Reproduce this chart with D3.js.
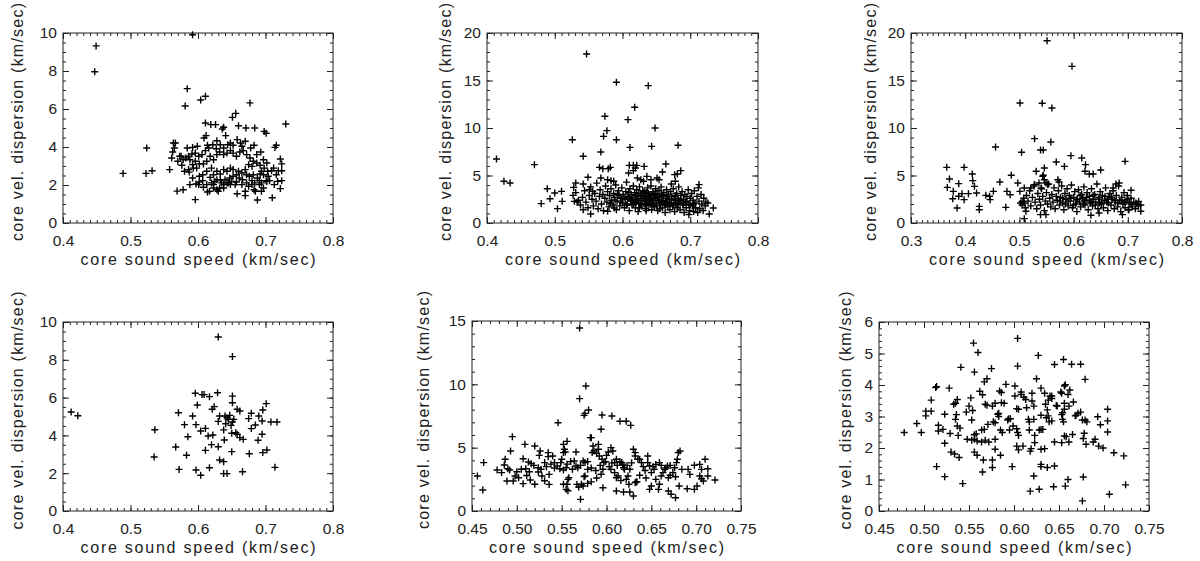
<!DOCTYPE html>
<html>
<head>
<meta charset="utf-8">
<script src="https://cdn.jsdelivr.net/npm/d3@7"></script>
<style>
  body { margin: 0; background: #fff; }
  svg { display: block; }
  .tick text { font-family: "Liberation Sans", Arial, sans-serif; font-size: 15.5px; fill: #222; }
  .lbl { font-family: "Liberation Sans", Arial, sans-serif; font-size: 16px; fill: #222; }
</style>
</head>
<body>
<svg width="1200" height="561"></svg>
<script>
// [sound speed, velocity dispersion] in km/sec
const coresA = [
  [0.449,9.32],[0.447,7.96],[0.592,9.91],[0.584,7.07],[0.581,6.16],[0.604,6.47],[0.611,6.67],[0.677,6.32],
  [0.651,5.56],[0.656,5.77],[0.730,5.21],[0.611,5.26],[0.619,5.18],[0.626,5.18],[0.638,5.04],[0.636,4.95],
  [0.660,5.12],[0.671,5.00],[0.684,5.00],[0.698,4.82],[0.701,4.72],[0.609,4.47],[0.612,4.60],[0.641,4.60],
  [0.524,3.95],[0.489,2.61],[0.523,2.61],[0.532,2.75],[0.558,2.81],[0.569,1.68],[0.578,1.75],[0.596,1.23],
  [0.688,1.21],[0.710,1.33],[0.670,1.44],
  [0.5635,4.21],[0.5665,4.21],[0.565,3.95],[0.5625,3.74],[0.561,3.42],[0.573,3.51],[0.578,3.33],[0.586,3.51],
  [0.584,3.95],[0.592,3.98],[0.599,4.04],[0.614,4.09],[0.628,4.33],[0.633,4.12],[0.648,4.21],[0.658,4.39],
  [0.665,4.04],[0.678,3.95],[0.683,4.09],[0.693,3.74],[0.716,4.09],[0.714,3.98],[0.722,3.37],[0.724,3.11],
  [0.719,2.75],[0.724,2.75],[0.724,2.23],[0.718,2.19],[0.722,1.81],[0.713,2.02],[0.706,2.23],[0.702,2.19],
  [0.704,2.46],[0.697,2.54],[0.694,2.72],[0.698,2.89],[0.692,3.04],[0.687,3.16],[0.682,3.25],[0.691,2.23],
  [0.694,2.11],[0.684,2.11],[0.680,2.23],[0.685,1.67],[0.694,1.67],[0.683,1.75],[0.675,1.93],[0.670,1.67],
  [0.658,1.54],[0.655,2.02],[0.650,2.19],[0.645,2.11],[0.640,2.28],[0.635,2.11],[0.630,1.67],[0.632,1.84],
  [0.625,2.19],[0.620,2.11],[0.618,2.40],[0.613,2.02],[0.607,2.23],[0.602,2.16],[0.597,2.05],[0.588,2.02],
  [0.592,2.37],[0.586,2.81],[0.587,2.68],[0.593,2.89],[0.596,3.25],[0.602,3.11],[0.608,3.11],[0.613,3.25],
  [0.618,3.51],[0.623,3.33],[0.628,3.60],[0.632,3.74],[0.638,3.60],[0.643,3.68],[0.648,3.81],[0.652,3.68],
  [0.657,3.51],[0.662,3.74],[0.667,3.81],[0.672,3.60],[0.677,3.42],[0.680,2.98],[0.675,3.07],[0.670,2.81],
  [0.665,2.63],[0.660,2.72],[0.652,2.81],[0.648,2.89],[0.643,2.72],[0.638,2.81],[0.633,2.58],[0.628,2.72],
  [0.623,2.54],[0.620,2.89],[0.613,2.72],[0.607,2.54],[0.602,2.46],[0.598,2.89],[0.592,3.07],[0.588,3.33],
  [0.582,3.42],[0.576,3.04],[0.570,3.25],[0.575,3.51],[0.580,2.72],[0.591,3.63],[0.596,3.68],[0.601,3.51],
  [0.606,3.60],[0.611,3.81],[0.616,3.95],[0.622,4.12],[0.627,3.91],[0.638,3.95],[0.644,4.12],[0.652,4.09],
  [0.663,4.21],[0.670,4.30],[0.687,3.60],[0.697,3.33],[0.702,3.16],[0.712,2.89],[0.716,2.54],[0.709,2.75],
  [0.703,2.72],[0.692,2.58],[0.688,2.37],[0.682,2.54],[0.676,2.46],[0.672,2.54],[0.666,2.28],[0.661,2.37],
  [0.657,2.16],[0.652,2.46],[0.647,2.37],[0.643,2.11],[0.638,2.02],[0.633,2.28],[0.628,2.28],[0.623,2.02],
  [0.623,1.84],[0.617,1.67],[0.608,1.88],[0.601,2.02],[0.614,1.63],[0.628,1.75],[0.638,1.84],[0.648,2.02],
  [0.657,2.54],[0.665,2.02],[0.672,2.11],[0.680,2.02],[0.691,2.02],[0.697,1.84],[0.701,2.23]
];

const coresB = [
  [0.547,17.79],[0.591,14.81],[0.638,14.46],[0.618,12.18],[0.574,11.23],[0.608,10.88],[0.648,10.0],[0.577,9.72],
  [0.572,9.12],[0.526,8.77],[0.591,8.77],[0.643,8.07],[0.611,7.96],[0.682,8.18],[0.568,7.47],[0.542,7.02],
  [0.470,6.14],[0.414,6.74],[0.425,4.39],[0.434,4.21],[0.664,6.21],[0.659,5.37],[0.610,6.07],[0.616,6.07],
  [0.621,6.07],[0.609,5.26],[0.616,5.51],[0.619,5.79],[0.632,5.96],[0.566,5.86],[0.571,5.72],[0.582,5.86],
  [0.579,5.72],[0.677,5.09],[0.681,5.16],[0.686,5.51],[0.568,4.74],[0.578,4.56],[0.583,4.46],[0.587,4.39],
  [0.549,4.81],[0.531,4.21],[0.528,3.75],[0.542,4.11],[0.489,3.61],[0.500,3.16],[0.510,3.33],[0.480,2.04],
  [0.493,2.56],[0.511,2.28],[0.504,1.51],[0.527,2.91],[0.529,2.28],[0.533,2.21],[0.542,1.40],[0.553,0.95],
  [0.551,3.51],[0.556,3.33],[0.578,1.23],[0.588,1.58],[0.622,4.74],[0.627,4.56],[0.636,4.91],[0.642,4.56],
  [0.651,4.74],[0.654,4.56],[0.672,4.11],[0.678,4.39],[0.698,0.88],[0.728,0.95],[0.734,1.58],[0.726,2.11],
  [0.713,4.04],
  [0.531,3.2],[0.535,2.4],[0.538,1.9],[0.541,2.7],[0.544,3.4],[0.546,2.2],[0.549,1.6],[0.551,2.9],[0.553,3.8],
  [0.555,2.5],[0.557,1.8],[0.559,3.1],[0.561,2.3],[0.562,4.2],[0.564,1.5],[0.566,2.8],[0.567,3.5],[0.569,2.0],
  [0.571,3.0],[0.572,1.3],[0.574,2.6],[0.575,3.9],[0.577,2.2],[0.578,3.3],[0.580,1.7],[0.581,2.9],[0.583,3.6],
  [0.584,2.4],[0.586,1.9],[0.587,3.1],[0.588,2.7],[0.590,4.0],[0.591,1.4],[0.592,2.3],[0.594,3.4],[0.595,2.9],
  [0.596,1.8],[0.598,2.6],[0.599,3.7],[0.600,2.1],[0.601,3.0],[0.603,1.6],[0.604,2.5],[0.605,3.3],[0.606,4.3],
  [0.607,2.0],[0.608,2.8],[0.610,1.3],[0.611,3.6],[0.612,2.4],[0.613,3.0],[0.614,1.9],[0.615,2.7],[0.616,3.9],
  [0.617,2.2],[0.618,3.2],[0.619,1.6],[0.620,2.5],[0.621,3.5],[0.622,2.9],[0.623,1.2],[0.624,2.1],[0.625,3.8],
  [0.626,2.6],[0.627,3.1],[0.628,1.8],[0.629,2.4],[0.630,3.4],[0.631,4.4],[0.632,2.0],[0.633,2.8],[0.634,1.5],
  [0.635,3.2],[0.636,2.3],[0.637,3.7],[0.638,2.7],[0.639,1.9],[0.640,3.0],[0.641,2.5],[0.642,3.9],[0.643,1.4],
  [0.644,2.2],[0.645,3.3],[0.646,2.9],[0.647,1.7],[0.648,2.6],[0.649,3.6],[0.650,2.1],[0.651,3.0],[0.652,1.3],
  [0.653,2.4],[0.654,3.4],[0.655,2.8],[0.656,1.9],[0.657,3.8],[0.658,2.3],[0.659,1.6],[0.660,2.9],[0.661,3.2],
  [0.662,2.0],[0.663,1.1],[0.664,2.6],[0.665,3.5],[0.666,2.2],[0.667,1.7],[0.668,3.0],[0.669,2.5],[0.670,1.4],
  [0.671,3.3],[0.672,2.1],[0.673,2.8],[0.674,1.8],[0.675,3.6],[0.676,2.4],[0.677,1.2],[0.678,2.9],[0.679,2.0],
  [0.680,3.1],[0.681,1.6],[0.682,2.6],[0.683,3.8],[0.684,2.2],[0.685,1.4],[0.686,2.9],[0.688,3.3],[0.689,1.9],
  [0.690,2.5],[0.691,1.1],[0.692,3.0],[0.693,2.2],[0.694,1.6],[0.695,2.8],[0.697,3.5],[0.698,2.0],[0.699,1.3],
  [0.700,2.6],[0.702,3.1],[0.703,1.8],[0.704,2.4],[0.705,1.2],[0.706,3.4],[0.707,2.1],[0.708,1.6],[0.710,2.8],
  [0.711,1.1],[0.712,3.7],[0.713,2.3],[0.714,1.5],[0.716,3.0],[0.717,2.0],[0.719,1.3],[0.720,2.6],[0.722,1.8],
  [0.723,2.2],
  [0.582,2.1],[0.589,2.4],[0.593,3.0],[0.597,2.2],[0.602,2.7],[0.606,1.9],[0.609,3.2],[0.613,2.3],[0.616,2.0],
  [0.619,2.9],[0.622,2.4],[0.624,3.1],[0.627,2.0],[0.629,2.9],[0.632,3.3],[0.634,2.4],[0.636,1.9],[0.638,3.1],
  [0.641,2.0],[0.643,2.9],[0.645,2.4],[0.648,3.1],[0.650,1.8],[0.652,2.7],[0.655,2.2],[0.658,3.0],[0.660,2.4],
  [0.663,1.9],[0.666,2.8],[0.669,2.1],[0.672,2.5],[0.675,1.9],[0.678,2.4],[0.682,2.0],[0.686,2.4],[0.690,2.0],
  [0.695,2.3],[0.700,1.9],[0.705,2.0],[0.625,1.6],[0.635,1.3],[0.645,1.9],[0.655,1.5],[0.665,2.0],[0.640,2.2],
  [0.630,2.6],[0.620,2.1],[0.610,2.6]
];

const coresC = [
  [0.551,19.19],[0.597,16.49],[0.501,12.63],[0.542,12.60],[0.560,12.10],[0.528,8.88],[0.456,8.0],[0.504,7.44],
  [0.539,7.68],[0.544,7.68],[0.558,8.53],[0.568,6.42],[0.583,5.96],[0.595,7.09],[0.615,6.84],[0.622,6.14],
  [0.621,5.44],[0.629,5.16],[0.636,5.16],[0.650,5.58],[0.695,6.49],[0.546,5.79],[0.531,5.44],[0.544,5.02],
  [0.366,5.86],[0.398,5.86],[0.371,4.63],[0.388,4.14],[0.413,5.16],[0.414,4.46],[0.417,3.86],[0.367,3.75],
  [0.378,3.33],[0.394,3.09],[0.388,2.81],[0.377,2.56],[0.398,2.46],[0.385,1.58],[0.406,3.09],[0.421,3.16],
  [0.426,1.75],[0.426,1.40],[0.438,2.91],[0.445,2.81],[0.446,2.46],[0.452,3.33],[0.464,4.32],[0.477,3.33],
  [0.483,2.98],[0.475,1.65],[0.485,5.02],[0.497,4.21],[0.501,3.33],[0.509,3.68],[0.505,2.28],[0.509,2.11],
  [0.512,1.23],[0.509,0.46],[0.521,3.68],[0.528,4.04],[0.536,4.21],[0.540,3.68],[0.539,0.88],[0.549,0.88],
  [0.543,4.91],[0.546,4.56],[0.549,4.21],[0.552,4.04],[0.571,4.56],[0.573,4.32],[0.690,0.88],[0.647,1.05],
  [0.632,0.81],[0.702,1.40],[0.706,1.93],[0.715,2.10],[0.720,2.28],[0.724,1.23],[0.706,3.44],[0.684,4.21],
  [0.678,4.11],[0.673,3.68],
  [0.502,2.1],[0.505,1.9],[0.508,2.6],[0.511,1.6],[0.513,2.9],[0.516,2.3],[0.519,3.4],[0.521,1.8],[0.524,2.7],
  [0.527,3.9],[0.529,2.2],[0.532,1.5],[0.534,3.1],[0.537,2.5],[0.539,1.9],[0.541,3.6],[0.543,2.8],[0.546,1.3],
  [0.548,2.3],[0.550,3.2],[0.552,2.0],[0.554,4.1],[0.556,2.6],[0.558,1.7],[0.560,3.0],[0.562,2.2],[0.564,3.7],
  [0.566,1.5],[0.568,2.8],[0.570,2.4],[0.572,3.4],[0.574,1.9],[0.576,2.7],[0.578,3.9],[0.580,2.1],[0.582,1.4],
  [0.584,3.1],[0.586,2.5],[0.588,3.6],[0.590,1.8],[0.592,2.9],[0.594,2.3],[0.596,4.0],[0.598,1.6],[0.600,2.7],
  [0.602,3.3],[0.604,2.0],[0.606,1.2],[0.607,2.5],[0.609,3.5],[0.611,2.2],[0.613,1.7],[0.615,3.0],[0.617,2.6],
  [0.619,3.8],[0.621,1.9],[0.623,2.4],[0.625,3.2],[0.627,1.4],[0.629,2.8],[0.631,2.1],[0.633,3.6],[0.635,1.8],
  [0.637,2.5],[0.639,3.0],[0.641,2.2],[0.643,4.1],[0.645,1.5],[0.647,2.7],[0.649,3.3],[0.651,2.0],[0.653,2.9],
  [0.655,1.6],[0.657,2.4],[0.659,3.7],[0.661,2.2],[0.663,1.3],[0.665,2.8],[0.667,3.1],[0.669,1.9],[0.671,2.5],
  [0.673,3.4],[0.675,1.5],[0.677,2.2],[0.679,2.9],[0.681,1.7],[0.683,3.9],[0.685,2.4],[0.687,1.2],[0.689,2.7],
  [0.691,2.0],[0.693,3.2],[0.695,1.6],[0.697,2.3],[0.699,2.9],[0.701,1.4],[0.703,2.1],[0.706,2.6],[0.708,1.7],
  [0.711,2.2],[0.714,1.5],[0.717,2.0],[0.720,1.8],[0.724,1.9],
  [0.575,2.3],[0.585,2.0],[0.595,2.6],[0.605,2.3],[0.612,2.9],[0.618,2.0],[0.624,2.7],[0.630,2.3],[0.636,2.9],
  [0.640,1.9],[0.646,2.5],[0.652,2.2],[0.658,2.8],[0.664,2.1],[0.670,2.7],[0.676,2.4],[0.682,2.1],[0.688,2.4],
  [0.694,2.2],[0.700,2.5],[0.620,2.4],[0.634,2.2],[0.648,2.1],[0.662,2.5],[0.590,2.3],[0.600,1.9],[0.580,2.6]
];

const coresD = [
  [0.630,9.21],[0.651,8.17],[0.412,5.24],[0.422,5.04],[0.536,4.30],[0.535,2.86],[0.567,3.39],[0.571,5.20],
  [0.580,4.57],[0.585,3.93],[0.583,2.95],[0.572,2.20],[0.592,5.03],[0.596,6.23],[0.599,5.61],[0.597,4.57],
  [0.606,6.16],[0.609,6.16],[0.617,6.05],[0.629,6.26],[0.604,4.23],[0.611,4.37],[0.615,3.97],[0.622,4.02],
  [0.611,3.21],[0.620,3.51],[0.630,3.40],[0.617,2.29],[0.597,2.17],[0.604,1.89],[0.621,5.38],[0.624,5.52],
  [0.632,5.03],[0.630,4.74],[0.640,5.03],[0.643,4.94],[0.647,5.06],[0.645,4.85],[0.651,6.08],[0.651,5.73],
  [0.658,5.38],[0.662,5.29],[0.653,4.85],[0.651,4.71],[0.641,4.62],[0.649,4.53],[0.638,4.29],[0.650,4.11],
  [0.656,4.14],[0.658,4.06],[0.662,3.88],[0.667,3.79],[0.639,3.76],[0.650,3.14],[0.632,2.70],[0.638,2.61],
  [0.638,1.98],[0.643,1.98],[0.666,2.08],[0.676,3.03],[0.675,4.89],[0.679,5.17],[0.679,4.36],[0.685,4.55],
  [0.689,3.74],[0.690,5.03],[0.696,5.34],[0.695,4.76],[0.695,4.06],[0.701,5.68],[0.696,3.09],[0.702,3.23],
  [0.708,4.71],[0.717,4.71],[0.714,2.31]
];

const coresE = [
  [0.570,14.45],[0.577,9.87],[0.570,8.87],[0.575,7.55],[0.576,7.71],[0.580,7.97],[0.546,6.97],[0.595,7.58],
  [0.606,7.50],[0.615,7.08],[0.622,7.08],[0.627,6.76],[0.594,6.45],[0.582,5.79],[0.495,5.87],[0.509,5.26],
  [0.520,5.13],[0.493,4.74],[0.487,4.08],[0.486,3.63],[0.490,3.34],[0.492,3.24],[0.478,3.24],[0.483,3.03],
  [0.463,3.82],[0.456,2.76],[0.462,1.66],[0.489,2.37],[0.496,2.37],[0.502,2.63],[0.498,2.76],[0.507,2.16],
  [0.507,4.13],[0.513,3.87],[0.516,3.74],[0.520,2.11],[0.515,2.45],[0.510,3.34],[0.524,3.42],[0.524,3.08],
  [0.528,2.76],[0.525,4.39],[0.526,4.74],[0.531,2.39],[0.531,3.82],[0.535,4.61],[0.535,4.29],[0.540,4.34],
  [0.536,2.89],[0.552,5.26],[0.553,4.87],[0.552,4.61],[0.556,5.50],[0.552,2.11],[0.555,1.71],[0.556,2.11],
  [0.557,2.50],[0.558,2.63],[0.566,4.66],[0.572,2.11],[0.574,1.97],[0.579,2.18],[0.571,0.92],[0.583,5.79],
  [0.585,5.13],[0.584,4.61],[0.591,5.26],[0.592,4.34],[0.595,4.08],[0.596,1.84],[0.611,1.58],[0.625,2.11],
  [0.626,1.50],[0.630,1.18],[0.648,1.71],[0.650,1.97],[0.669,1.58],[0.672,1.32],[0.677,1.05],
  [0.542,3.82],[0.545,3.55],[0.548,3.34],[0.549,3.82],[0.550,4.08],[0.554,4.66],[0.552,3.24],[0.555,3.42],
  [0.564,3.95],[0.566,3.55],[0.568,3.42],[0.574,3.95],[0.576,3.82],[0.579,3.29],[0.576,2.76],[0.575,2.71],
  [0.586,4.74],[0.589,4.55],[0.591,4.87],[0.597,3.82],[0.600,4.39],[0.602,4.66],[0.605,5.00],[0.607,4.74],
  [0.609,3.82],[0.611,4.08],[0.605,3.29],[0.609,3.03],[0.611,2.63],[0.613,2.76],[0.617,3.82],[0.619,3.42],
  [0.620,3.29],[0.622,2.50],[0.624,2.76],[0.630,4.87],[0.632,4.61],[0.632,4.34],[0.635,4.08],[0.637,4.08],
  [0.639,3.82],[0.632,2.24],[0.633,2.29],[0.637,2.82],[0.646,4.34],[0.646,3.82],[0.648,3.55],[0.650,3.03],
  [0.652,3.50],[0.655,3.68],[0.659,3.82],[0.659,2.11],[0.658,1.71],[0.661,2.76],[0.663,3.03],[0.665,3.29],
  [0.668,3.55],[0.676,3.42],[0.678,3.82],[0.679,4.08],[0.680,4.61],[0.682,4.74],[0.669,2.63],[0.671,2.82],
  [0.674,3.03],[0.681,1.97],[0.684,3.29],[0.691,3.29],[0.693,2.89],[0.690,1.76],[0.698,1.71],[0.698,3.61],
  [0.701,1.97],[0.704,3.68],[0.706,3.29],[0.710,4.08],[0.713,3.34],[0.713,2.76],[0.721,2.45],[0.706,2.55],
  [0.708,2.37],[0.704,2.76],
  [0.556,3.7],[0.560,3.9],[0.562,3.3],[0.571,3.6],[0.579,3.9],[0.583,3.4],[0.588,3.2],[0.593,3.6],[0.596,3.3],
  [0.599,3.9],[0.603,3.5],[0.606,3.8],[0.612,3.6],[0.615,3.9],[0.618,3.7],[0.623,3.6],[0.626,3.3],[0.628,3.8],
  [0.641,3.5],[0.643,3.2],[0.653,3.3],[0.661,3.6],[0.666,3.4],[0.671,3.6],[0.542,3.4],[0.538,3.7],[0.533,3.5],
  [0.527,3.3],[0.519,3.6],[0.514,3.1],[0.505,3.3],[0.500,3.1],[0.511,2.8],[0.589,2.6],[0.594,2.9],[0.567,2.1],
  [0.583,2.3],[0.616,2.4],[0.634,2.3],[0.644,2.6],[0.677,2.7],[0.655,2.5],[0.619,1.5],[0.569,1.9],[0.557,1.6],
  [0.536,2.1]
];

const coresF = [
  [0.478,2.49],[0.492,2.78],[0.497,2.49],[0.502,3.02],[0.502,3.17],[0.508,3.17],[0.508,3.52],[0.513,3.92],
  [0.514,3.95],[0.516,2.72],[0.516,2.54],[0.521,2.59],[0.523,3.07],[0.523,2.15],[0.514,1.41],[0.523,1.09],
  [0.528,3.90],[0.529,2.46],[0.530,1.87],[0.534,1.81],[0.539,1.70],[0.533,3.39],[0.535,3.42],[0.537,3.54],
  [0.536,3.06],[0.535,2.91],[0.537,2.70],[0.540,2.63],[0.538,2.40],[0.543,0.87],[0.541,4.56],[0.547,3.14],
  [0.550,3.33],[0.552,3.59],[0.554,3.19],[0.553,2.89],[0.548,2.28],[0.553,2.25],[0.555,5.33],[0.556,4.41],
  [0.560,5.03],[0.556,2.42],[0.558,2.45],[0.556,1.87],[0.559,1.77],[0.556,2.28],[0.559,2.22],[0.562,3.80],
  [0.565,3.69],[0.565,1.24],[0.567,4.10],[0.570,4.20],[0.568,3.39],[0.570,3.36],[0.564,2.57],[0.567,2.59],
  [0.564,2.19],[0.568,2.25],[0.566,1.62],[0.571,2.75],[0.572,2.19],[0.575,4.52],[0.576,3.33],[0.579,3.42],
  [0.576,1.62],[0.576,1.38],[0.577,2.83],[0.579,2.80],[0.579,2.28],[0.579,1.96],[0.582,3.07],[0.583,3.10],
  [0.583,3.00],[0.584,3.81],[0.586,3.76],[0.585,2.57],[0.587,2.49],[0.585,1.77],[0.586,3.44],[0.589,3.42],
  [0.591,4.02],[0.593,2.89],[0.594,2.93],[0.596,2.93],[0.595,2.57],[0.598,1.41],[0.599,2.70],[0.603,2.61],
  [0.601,3.97],[0.604,5.48],[0.604,4.60],[0.601,3.65],[0.603,3.25],[0.605,3.23],[0.605,2.40],[0.604,2.49],
  [0.603,2.06],[0.605,1.94],[0.608,3.78],[0.608,3.70],[0.610,2.06],[0.611,3.61],[0.613,3.54],[0.614,3.28],
  [0.616,2.91],[0.617,2.83],[0.617,2.57],[0.618,1.90],[0.619,1.98],[0.618,0.63],[0.620,3.74],[0.620,3.49],
  [0.622,3.33],[0.622,2.91],[0.623,2.40],[0.623,2.17],[0.622,1.11],[0.625,4.20],[0.627,4.94],[0.628,2.57],
  [0.630,2.59],[0.630,3.90],[0.630,3.04],[0.628,0.69],[0.630,1.48],[0.630,1.41],[0.630,1.96],[0.632,2.59],
  [0.634,3.74],[0.634,1.98],[0.636,2.96],[0.638,3.02],[0.637,3.21],[0.637,1.38],[0.635,3.39],[0.638,3.52],
  [0.640,3.65],[0.642,3.65],[0.642,3.57],[0.639,2.83],[0.642,2.86],[0.645,4.65],[0.645,2.19],[0.645,1.43],
  [0.644,0.77],[0.647,3.35],[0.648,3.33],[0.652,3.78],[0.653,3.74],[0.653,3.06],[0.654,3.12],[0.653,2.17],
  [0.654,2.91],[0.655,2.83],[0.655,4.81],[0.656,3.97],[0.657,4.01],[0.656,3.42],[0.656,3.23],[0.656,2.38],
  [0.658,2.36],[0.657,0.79],[0.660,3.70],[0.662,3.84],[0.661,3.33],[0.661,2.19],[0.660,1.00],[0.664,4.66],
  [0.665,2.43],[0.666,3.46],[0.668,3.02],[0.669,3.04],[0.671,3.10],[0.674,3.14],[0.674,4.66],[0.676,2.89],
  [0.677,2.30],[0.678,2.47],[0.679,4.18],[0.679,2.89],[0.681,2.83],[0.680,2.12],[0.677,1.08],[0.676,0.32],
  [0.688,2.19],[0.690,2.28],[0.693,2.99],[0.696,2.74],[0.694,2.06],[0.699,2.00],[0.704,3.23],[0.704,2.86],
  [0.704,2.51],[0.706,0.53],[0.711,1.85],[0.722,1.75],[0.724,0.83]
];

// axis ranges and tick labels
const xDomainWide = [0.4, 0.8];
const xDomainWider = [0.3, 0.8];
const xDomainNarrow = [0.45, 0.75];
const xTicksA = [0.4, 0.5, 0.6, 0.7, 0.8];
const xTicksC = [0.3, 0.4, 0.5, 0.6, 0.7, 0.8];
const xTicksE = [0.45, 0.50, 0.55, 0.60, 0.65, 0.70, 0.75];
const yTicks10 = [0, 2, 4, 6, 8, 10];
const yTicks20 = [0, 5, 10, 15, 20];
const yTicks15 = [0, 5, 10, 15];
const yTicks6 = [0, 1, 2, 3, 4, 5, 6];

const xTitle = 'core sound speed (km/sec)';
const yTitle = 'core vel. dispersion (km/sec)';

const panels = [
  { pts: coresA, box: [63, 333, 33, 223], xd: xDomainWide, xt: xTicksA, xm: 0.01, xf: '.1f', yd: [0, 10], yt: yTicks10, ym: 0.5, yl: 45 },
  { pts: coresB, box: [487, 758, 33, 223], xd: xDomainWide, xt: xTicksA, xm: 0.01, xf: '.1f', yd: [0, 20], yt: yTicks20, ym: 1, yl: 41 },
  { pts: coresC, box: [911, 1182, 33, 223], xd: xDomainWider, xt: xTicksC, xm: 0.01, xf: '.1f', yd: [0, 20], yt: yTicks20, ym: 1, yl: 40 },
  { pts: coresD, box: [63, 333, 322, 511], xd: xDomainWide, xt: xTicksA, xm: 0.01, xf: '.1f', yd: [0, 10], yt: yTicks10, ym: 0.5, yl: 45 },
  { pts: coresE, box: [472, 741, 321, 511], xd: xDomainNarrow, xt: xTicksE, xm: 0.01, xf: '.2f', yd: [0, 15], yt: yTicks15, ym: 1, yl: 48 },
  { pts: coresF, box: [879, 1149, 322, 511], xd: xDomainNarrow, xt: xTicksE, xm: 0.01, xf: '.2f', yd: [0, 6], yt: yTicks6, ym: 0.2, yl: 33 }
];

const svg = d3.select('svg');
const plus = 'M-3.5,0H3.5M0,-3.5V3.5';

const minorVals = (dom, step) => d3.range(Math.round(dom[0] / step), Math.round(dom[1] / step) + 1).map((k) => +(k * step).toFixed(4));

panels.forEach((p) => {
  const [x0, x1, y0, y1] = p.box;
  const x = d3.scaleLinear().domain(p.xd).range([x0, x1]);
  const y = d3.scaleLinear().domain(p.yd).range([y1, y0]);
  const g = svg.append('g');

  const tidy = (sel) => {
    sel.select('.domain').remove();
    sel.selectAll('.tick line').attr('stroke', '#222').attr('stroke-width', 1);
  };

  // minor ticks
  g.append('g').attr('transform', `translate(0,${y1})`)
    .call(d3.axisBottom(x).tickValues(minorVals(p.xd, p.xm)).tickSize(-3).tickFormat('')).call(tidy);
  g.append('g').attr('transform', `translate(0,${y0})`)
    .call(d3.axisTop(x).tickValues(minorVals(p.xd, p.xm)).tickSize(-3).tickFormat('')).call(tidy);
  g.append('g').attr('transform', `translate(${x0},0)`)
    .call(d3.axisLeft(y).tickValues(minorVals(p.yd, p.ym)).tickSize(-3).tickFormat('')).call(tidy);
  g.append('g').attr('transform', `translate(${x1},0)`)
    .call(d3.axisRight(y).tickValues(minorVals(p.yd, p.ym)).tickSize(-3).tickFormat('')).call(tidy);

  // major ticks
  g.append('g').attr('transform', `translate(0,${y1})`)
    .call(d3.axisBottom(x).tickValues(p.xt).tickSize(-6).tickPadding(12).tickFormat(d3.format(p.xf))).call(tidy);
  g.append('g').attr('transform', `translate(0,${y0})`)
    .call(d3.axisTop(x).tickValues(p.xt).tickSize(-6).tickFormat('')).call(tidy);
  g.append('g').attr('transform', `translate(${x0},0)`)
    .call(d3.axisLeft(y).tickValues(p.yt).tickSize(-6).tickPadding(6).tickFormat(d3.format('d'))).call(tidy);
  g.append('g').attr('transform', `translate(${x1},0)`)
    .call(d3.axisRight(y).tickValues(p.yt).tickSize(-6).tickFormat('')).call(tidy);

  g.append('rect')
    .attr('x', x0).attr('y', y0)
    .attr('width', x1 - x0).attr('height', y1 - y0)
    .attr('fill', 'none').attr('stroke', '#222').attr('stroke-width', 1);

  g.append('g').selectAll('path')
    .data(p.pts).enter()
    .append('path')
    .attr('transform', (d) => `translate(${x(d[0])},${y(d[1])})`)
    .attr('d', plus)
    .attr('stroke', '#000')
    .attr('stroke-width', 1.4)
    .attr('fill', 'none');

  g.append('text').attr('class', 'lbl')
    .attr('x', (x0 + x1) / 2).attr('y', y1 + 42)
    .attr('text-anchor', 'middle')
    .attr('textLength', 235).attr('lengthAdjust', 'spacing')
    .text(xTitle);

  const cy = (y0 + y1) / 2 - 6;
  g.append('text').attr('class', 'lbl')
    .attr('transform', `translate(${x0 - p.yl + 5},${cy}) rotate(-90)`)
    .attr('text-anchor', 'middle')
    .attr('textLength', 238).attr('lengthAdjust', 'spacing')
    .text(yTitle);
});
</script>
</body>
</html>
